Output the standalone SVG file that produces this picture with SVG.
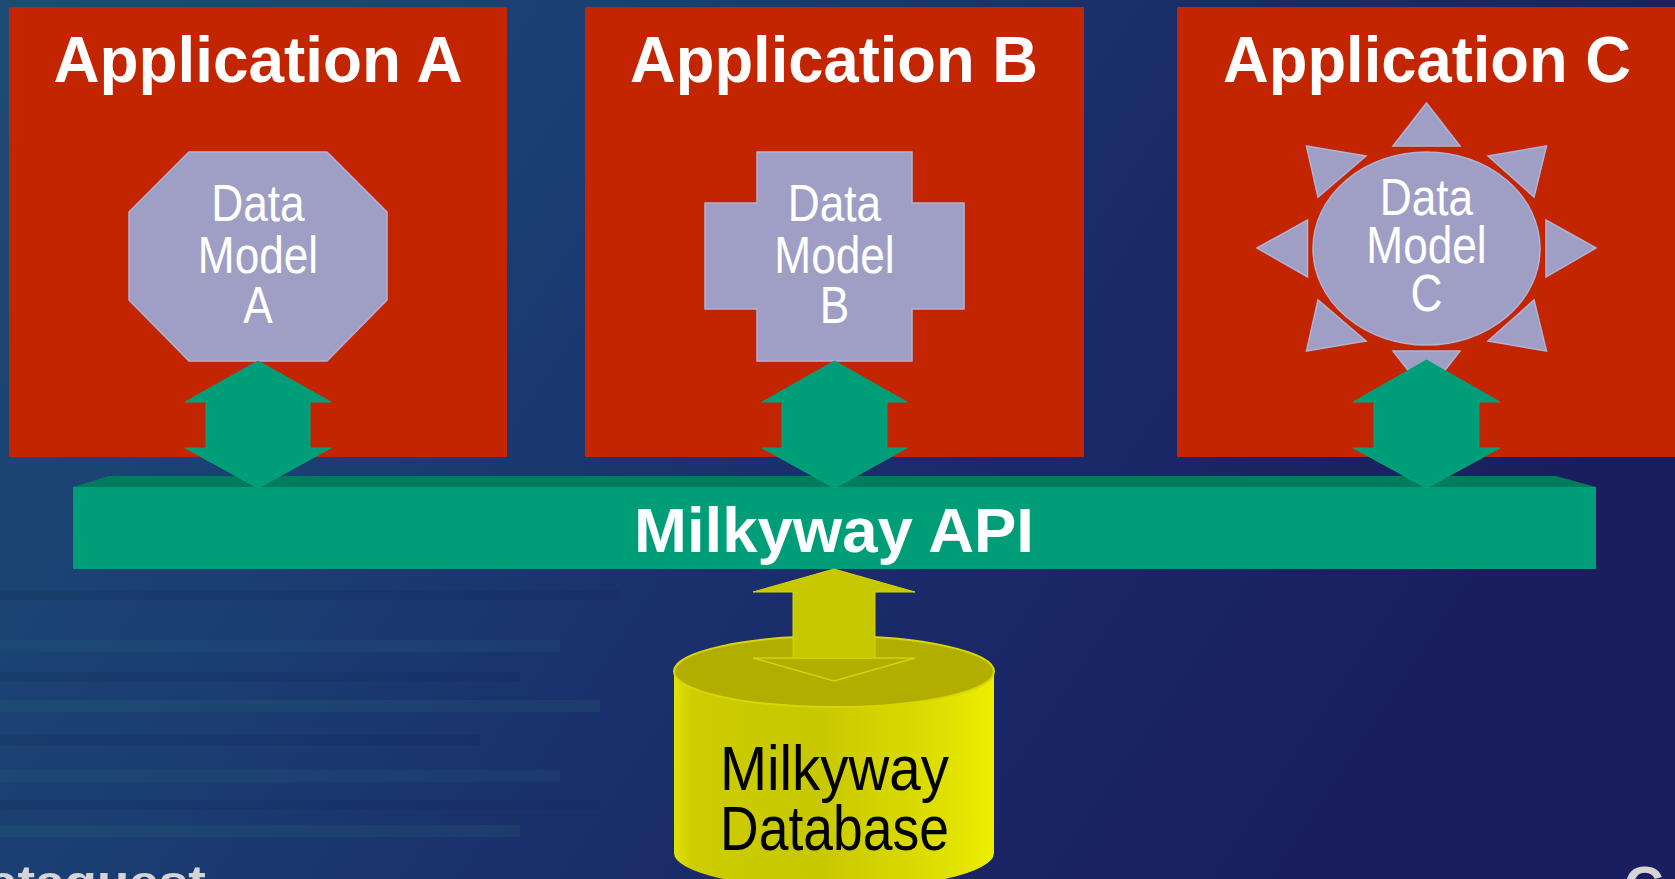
<svg xmlns="http://www.w3.org/2000/svg" width="1675" height="879" viewBox="0 0 1675 879">
  <defs>
    <linearGradient id="bg" x1="0" y1="0" x2="1" y2="0.35">
      <stop offset="0" stop-color="#1c4c74"/>
      <stop offset="0.35" stop-color="#1a3e72"/>
      <stop offset="0.65" stop-color="#1a2c6a"/>
      <stop offset="1" stop-color="#1a1e5e"/>
    </linearGradient>
    <linearGradient id="cyl" x1="0" y1="0" x2="1" y2="0">
      <stop offset="0" stop-color="#e2e200"/>
      <stop offset="0.06" stop-color="#cccc00"/>
      <stop offset="0.45" stop-color="#c8c800"/>
      <stop offset="0.85" stop-color="#e0e000"/>
      <stop offset="1" stop-color="#eeee00"/>
    </linearGradient>
    <style>
      .app { fill: #c22500; }
      .model { fill: #9f9fc6; stroke: #b2b2d8; stroke-width: 1.5; }
      .title { font-family: "Liberation Sans", Arial, sans-serif; font-weight: bold; font-size: 65px; fill: #ffffff; text-anchor: middle; }
      .dm { font-family: "Liberation Sans", Arial, sans-serif; font-size: 52px; fill: #ffffff; text-anchor: middle; }
      .garrow { fill: #009e78; stroke: #00a57e; stroke-width: 1; }
      .api { font-family: "Liberation Sans", Arial, sans-serif; font-weight: bold; font-size: 63px; fill: #ffffff; text-anchor: middle; }
      .db { font-family: "Liberation Sans", Arial, sans-serif; font-size: 63px; fill: #000000; text-anchor: middle; }
      .frag { font-family: "Liberation Sans", Arial, sans-serif; font-weight: bold; fill: #d4d4d4; }
    </style>
  </defs>

  <!-- background -->
  <rect x="0" y="0" width="1675" height="879" fill="url(#bg)"/>
  <g opacity="0.12">
    <rect x="0" y="590" width="620" height="10" fill="#0a1a40"/>
    <rect x="0" y="640" width="560" height="12" fill="#2a7a80"/>
    <rect x="0" y="672" width="520" height="10" fill="#0a1a40"/>
    <rect x="0" y="700" width="600" height="12" fill="#2a8a70"/>
    <rect x="0" y="735" width="480" height="10" fill="#0a1a40"/>
    <rect x="0" y="770" width="560" height="12" fill="#2a7a80"/>
    <rect x="0" y="800" width="600" height="10" fill="#0a1a40"/>
    <rect x="0" y="825" width="520" height="12" fill="#2a8a70"/>
  </g>
  <text class="frag" x="-12" y="897" font-size="44" textLength="218" lengthAdjust="spacingAndGlyphs">ataquest</text>
  <text class="frag" x="1624" y="905" font-size="55">C</text>

  <!-- Application A -->
  <g id="app-a">
    <rect class="app" x="9" y="7" width="498" height="450"/>
    <text class="title" x="258" y="82" textLength="409" lengthAdjust="spacingAndGlyphs">Application A</text>
  </g>
  <g id="model-a">
    <polygon class="model" points="189,152 327,152 387,212 387,300 327,361 189,361 129,300 129,212"/>
    <g transform="translate(258,0) scale(0.85,1)">
      <text class="dm" x="0" y="221">Data</text>
      <text class="dm" x="0" y="273">Model</text>
      <text class="dm" x="0" y="323">A</text>
    </g>
  </g>

  <!-- Application B -->
  <g id="app-b">
    <rect class="app" x="585" y="7" width="499" height="450"/>
    <text class="title" x="834" y="82" textLength="408" lengthAdjust="spacingAndGlyphs">Application B</text>
  </g>
  <g id="model-b">
    <polygon class="model" points="757,152 912,152 912,203 964,203 964,309 912,309 912,361 757,361 757,309 705,309 705,203 757,203"/>
    <g transform="translate(834.5,0) scale(0.85,1)">
      <text class="dm" x="0" y="221">Data</text>
      <text class="dm" x="0" y="273">Model</text>
      <text class="dm" x="0" y="323">B</text>
    </g>
  </g>

  <!-- Application C -->
  <g id="app-c">
    <rect class="app" x="1177" y="7" width="498" height="450"/>
    <text class="title" x="1427" y="82" textLength="408" lengthAdjust="spacingAndGlyphs">Application C</text>
  </g>
  <g id="model-c">
    <polygon class="model" points="1426.5,103 1460,146 1393,146"/>
    <polygon class="model" points="1426.5,394 1460,351 1393,351"/>
    <polygon class="model" points="1257,248 1307.5,220 1307.5,277"/>
    <polygon class="model" points="1596,248 1546,220 1546,277"/>
    <polygon class="model" points="1306.5,146 1366,156 1318,197"/>
    <polygon class="model" points="1546.5,146 1488,156 1534,197"/>
    <polygon class="model" points="1306.5,351 1366,341 1318,300"/>
    <polygon class="model" points="1546.5,351 1488,341 1534,300"/>
    <ellipse class="model" cx="1426.5" cy="248.5" rx="113.5" ry="96.5"/>
    <g transform="translate(1426.5,0) scale(0.85,1)">
      <text class="dm" x="0" y="215" font-size="50">Data</text>
      <text class="dm" x="0" y="263" font-size="50">Model</text>
      <text class="dm" x="0" y="311" font-size="50">C</text>
    </g>
  </g>

  <!-- Milkyway API bar -->
  <g id="api">
    <polygon points="73,487 109,476 1556,476 1596,487" fill="#007c5c"/>
    <rect x="73" y="487" width="1523" height="82" fill="#009e78"/>
    <text class="api" x="834" y="552" textLength="400" lengthAdjust="spacingAndGlyphs">Milkyway API</text>
  </g>

  <!-- Milkyway Database -->
  <g id="database">
    <path d="M674,672 L674,853 A160,36 0 0 0 994,853 L994,672 Z" fill="url(#cyl)"/>
    <ellipse cx="834" cy="671.5" rx="160" ry="35.5" fill="#b2ae00" stroke="#d8d800" stroke-width="2"/>
    <text class="db" x="834.5" y="790" textLength="229" lengthAdjust="spacingAndGlyphs">Milkyway</text>
    <text class="db" x="834.5" y="850" textLength="229" lengthAdjust="spacingAndGlyphs">Database</text>
  </g>

  <!-- connectors -->
  <g id="connectors">
    <polygon class="garrow" points="258,361 185,402 206,402 206,448 185,448 258,488 331,448 310,448 310,402 331,402"/>
    <polygon class="garrow" points="834.5,361 762,402 782,402 782,448 762,448 834.5,488 907,448 887,448 887,402 907,402"/>
    <polygon class="garrow" points="1426.5,360 1353,402 1374,402 1374,448 1353,448 1426.5,488 1500,448 1479,448 1479,402 1500,402"/>
    <polygon points="753,658 915,658 834,681" fill="#b2ae00" stroke="#d4d400" stroke-width="1.5"/>
    <polygon points="834,569 753,592 793,592 793,658 875,658 875,592 915,592" fill="#c8c800" stroke="#d6d600" stroke-width="1"/>
  </g>
</svg>
